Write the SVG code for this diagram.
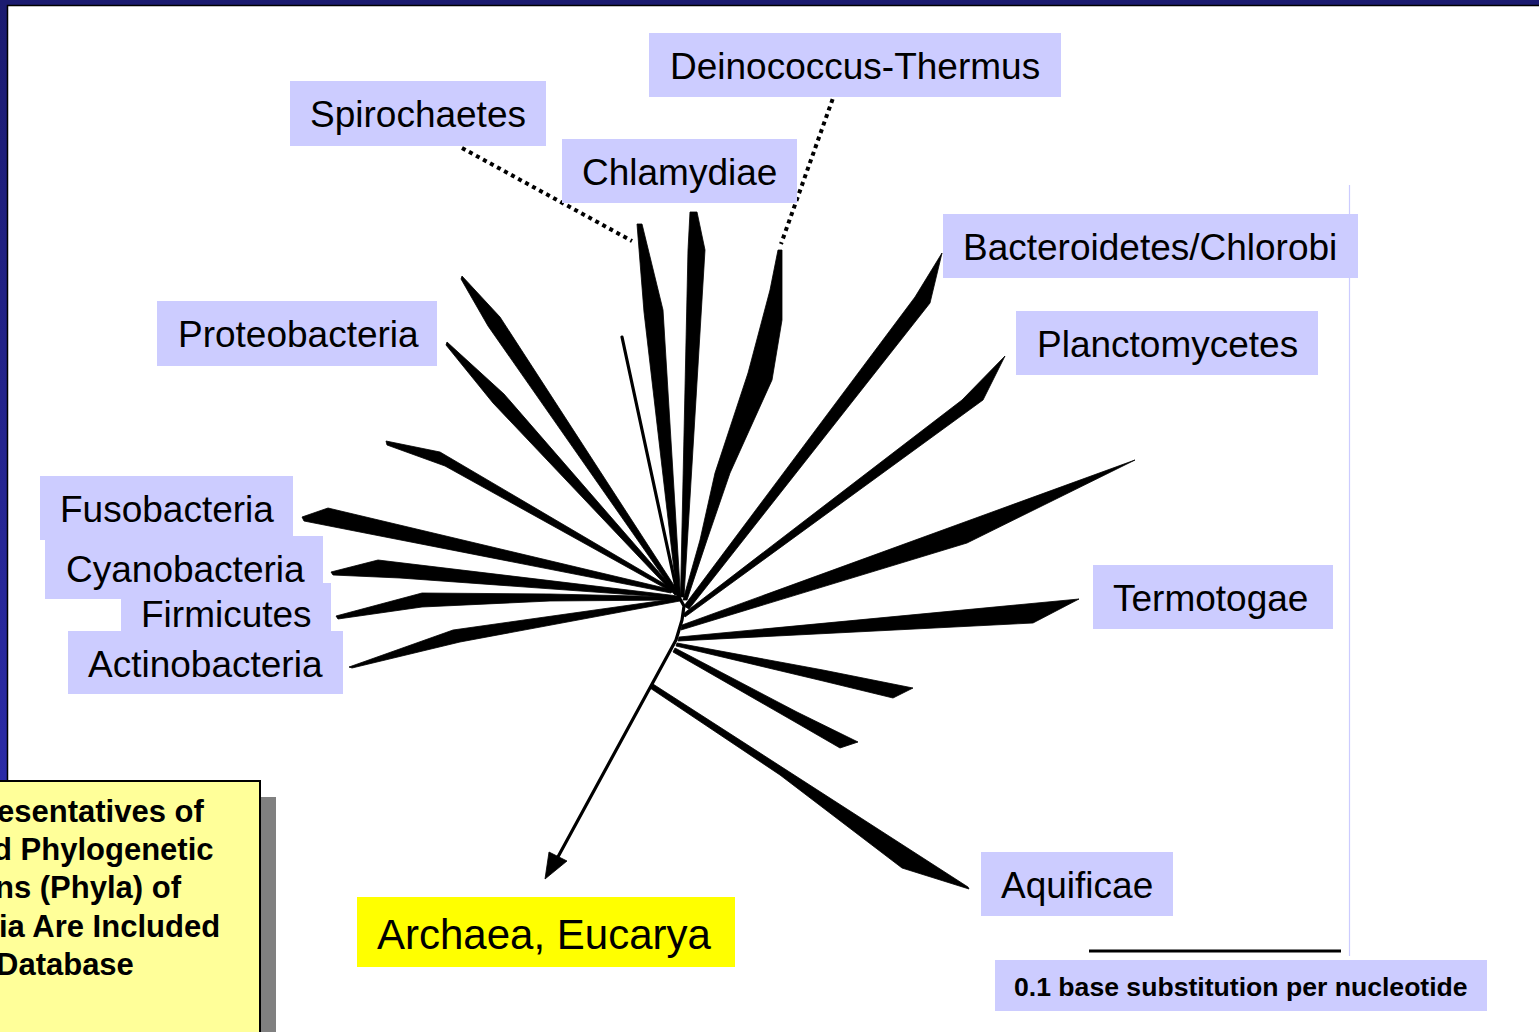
<svg xmlns="http://www.w3.org/2000/svg" width="1539" height="1032" viewBox="0 0 1539 1032">
<defs>
<linearGradient id="frame" x1="0" y1="0" x2="0" y2="1">
<stop offset="0" stop-color="#1b1b70"/>
<stop offset="1" stop-color="#3030b8"/>
</linearGradient>
</defs>
<style>
.box{fill:#ccccff}
.lbl{font-family:"Liberation Sans",Arial,sans-serif;font-size:37px;fill:#000}
.w{fill:#000;stroke:#000;stroke-width:0.8;stroke-linejoin:round}
.ln{stroke:#000;stroke-width:3.2;fill:none;stroke-linecap:round;stroke-linejoin:round}
.dot{stroke:#000;stroke-width:4;stroke-dasharray:4 4;fill:none}
.note{font-family:"Liberation Sans",Arial,sans-serif;font-size:31px;font-weight:bold;fill:#000}
</style>

<!-- slide frame -->
<rect x="0" y="0" width="1539" height="1032" fill="url(#frame)"/>
<rect x="8" y="6" width="1531" height="1026" fill="#ffffff"/>
<path d="M7.5,1032 V5.5 H1539" fill="none" stroke="#000" stroke-width="1.5"/>

<!-- image edge and scale bar -->
<line x1="1349.5" y1="185" x2="1349.5" y2="956" stroke="#ccccff" stroke-width="1.2"/>
<line x1="1089" y1="951" x2="1341" y2="951" stroke="#000" stroke-width="3"/>

<g id="connectors">
<!-- dotted leaders -->
<line class="dot" x1="462" y1="148" x2="632" y2="241"/>
<line class="dot" x1="838" y1="84" x2="781" y2="244"/>
<!-- upper branches -->
<polygon class="w" points="637,224 642,224 663,310 680.5,596 677,596 644,312"/>
<polygon class="w" points="690,212 697,212 705,250 684,597 680.5,597 688,250"/>
<line class="ln" x1="622" y1="337" x2="677" y2="592" stroke-width="3"/>
<polygon class="w" points="778,250 782,250 782,320 772,380 730,473 707,540 687,600 683,600 700,540 715,473 748,373 770,290"/>
<polygon class="w" points="462,276 500,317 679,593 676,595 488,326 461,279"/>
<polygon class="w" points="447,342 504,394 677,593 675,595 493,403 446,345"/>
<!-- left branches -->
<polygon class="w" points="386,441 440,452 673,589 672,592 445,466 387,445"/>
<polygon class="w" points="302,517 328,508 673,590 671,593 370,534 304,521"/>
<polygon class="w" points="331,572 378,560 678,596 677,598 400,578 333,575"/>
<polygon class="w" points="336,616 422,593 550,594 680,597 680,600 550,601 422,607 338,619"/>
<polygon class="w" points="349,667 453,630 680,598 680,601 460,642 352,668"/>
<!-- right branches -->
<polygon class="w" points="942,253 930,303 689,609 684,606 915,297"/>
<polygon class="w" points="1005,356 983,400 685,617 683,614 962,400"/>
<polygon class="w" points="1135,460 682,625 681,630 967,543"/>
<polygon class="w" points="1079,599 679,637 678,641 1033,623"/>
<polygon class="w" points="913,688 823,670 677,643 676,646 823,681 893,698"/>
<polygon class="w" points="858,742 797,712 675,648 673,652 795,722 840,748"/>
<polygon class="w" points="968,887 653,684 650,688 780,775 902,868 969,889"/>
<!-- stem to Archaea, Eucarya -->
<polyline class="ln" points="679,597 684,606 682,620 676,640 553,866"/>
<polygon class="w" points="545,879 549,852 567,861"/>
</g>

<g id="n-deinococcus"><rect class="box" x="649" y="33" width="412" height="64"/><text class="lbl" x="670" y="79">Deinococcus-Thermus</text></g>
<g id="n-spirochaetes"><rect class="box" x="290" y="81" width="256" height="65"/><text class="lbl" x="310" y="127">Spirochaetes</text></g>
<g id="n-chlamydiae"><rect class="box" x="562" y="139" width="235" height="64"/><text class="lbl" x="582" y="185">Chlamydiae</text></g>
<g id="n-bacteroidetes"><rect class="box" x="943" y="214" width="415" height="64"/><text class="lbl" x="963" y="260">Bacteroidetes/Chlorobi</text></g>
<g id="n-planctomycetes"><rect class="box" x="1016" y="311" width="302" height="64"/><text class="lbl" x="1037" y="357">Planctomycetes</text></g>
<g id="n-proteobacteria"><rect class="box" x="157" y="301" width="280" height="65"/><text class="lbl" x="178" y="347">Proteobacteria</text></g>
<g id="n-fusobacteria"><rect class="box" x="40" y="476" width="253" height="64"/><text class="lbl" x="60" y="522">Fusobacteria</text></g>
<g id="n-cyanobacteria"><rect class="box" x="45" y="536" width="278" height="63"/><text class="lbl" x="66" y="582">Cyanobacteria</text></g>
<g id="n-firmicutes"><rect class="box" x="121" y="583" width="210" height="48"/><text class="lbl" x="141" y="627">Firmicutes</text></g>
<g id="n-actinobacteria"><rect class="box" x="68" y="631" width="275" height="63"/><text class="lbl" x="88" y="677">Actinobacteria</text></g>
<g id="n-termotogae"><rect class="box" x="1093" y="565" width="240" height="64"/><text class="lbl" x="1113" y="611">Termotogae</text></g>
<g id="n-aquificae"><rect class="box" x="981" y="852" width="192" height="64"/><text class="lbl" x="1001" y="898">Aquificae</text></g>
<g id="n-archaea"><rect x="357" y="897" width="378" height="70" fill="#ffff00"/><text class="lbl" x="377" y="949" style="font-size:42px">Archaea, Eucarya</text></g>
<g id="n-scale"><rect class="box" x="995" y="960" width="492" height="51"/><text x="1014" y="996" style="font-family:'Liberation Sans',Arial,sans-serif;font-size:26.6px;font-weight:bold">0.1 base substitution per nucleotide</text></g>

<g id="n-note">
<rect x="6" y="797" width="270" height="250" fill="#808080"/>
<rect x="-10" y="781" width="270" height="270" fill="#ffff99" stroke="#000" stroke-width="2"/>
<text class="note" x="-3" y="822">esentatives of</text>
<text class="note" x="-7" y="860">d Phylogenetic</text>
<text class="note" x="-5" y="898">ns (Phyla) of</text>
<text class="note" x="-1" y="937">ia Are Included</text>
<text class="note" x="-4" y="975">Database</text>
</g>
</svg>
